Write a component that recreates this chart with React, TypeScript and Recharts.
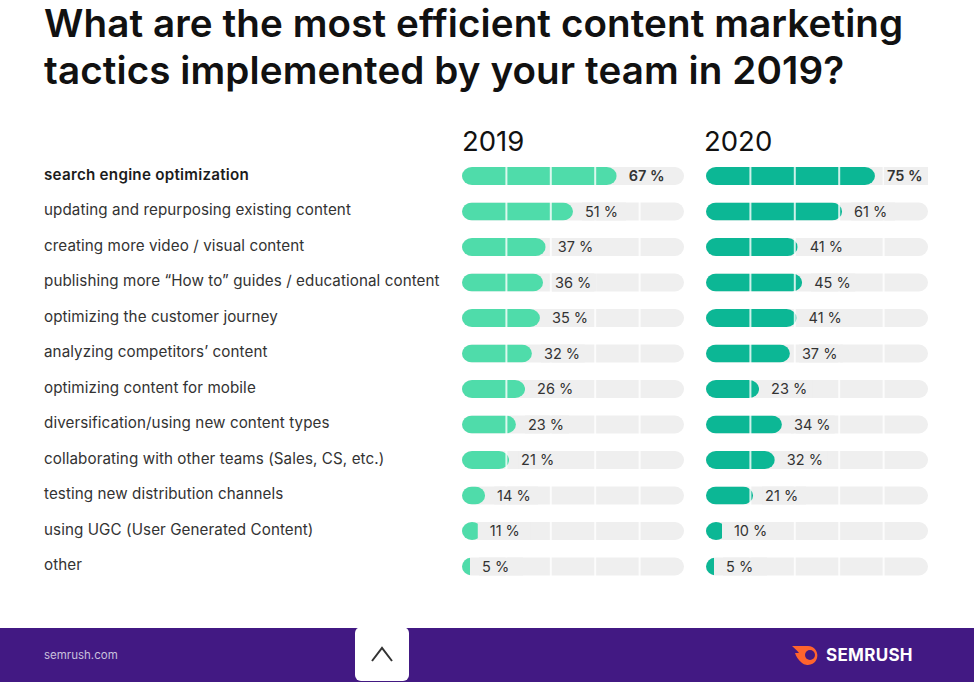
import React from "react";
import { BarChart, Bar, XAxis, YAxis, ReferenceLine, LabelList } from "recharts";

const FONT = "Inter, 'Noto Sans', sans-serif";

const TACTICS = [
  "search engine optimization",
  "updating and repurposing existing content",
  "creating more video / visual content",
  "publishing more “How to” guides / educational content",
  "optimizing the customer journey",
  "analyzing competitors’ content",
  "optimizing content for mobile",
  "diversification/using new content types",
  "collaborating with other teams (Sales, CS, etc.)",
  "testing new distribution channels",
  "using UGC (User Generated Content)",
  "other",
];

// printed percentages
const PRINTED_2019 = [67, 51, 37, 36, 35, 32, 26, 23, 21, 14, 11, 5];
const PRINTED_2020 = [75, 61, 41, 45, 41, 37, 23, 34, 32, 21, 10, 5];

// drawn bar lengths as % of the track, they differ a bit from the printed numbers
const DRAWN_2019 = [69.7, 50, 37.7, 36.5, 35.1, 31.5, 28.4, 24.3, 21.2, 10.4, 7.1, 3.6];
const DRAWN_2020 = [76.1, 61.3, 41.3, 43.3, 40.8, 37.8, 23.9, 34.2, 31, 21.2, 7.2, 3.6];

const DIVIDERS = [20, 40, 60, 80];

const ROW_HEIGHT = 426;
const BAR_HEIGHT = 18;
const RADIUS = 10;
const TRACK = "#efefef";

const makeRows = (drawn: number[], printed: number[]) =>
  TACTICS.map((name, i) => ({ name, drawn: drawn[i], printed: printed[i] }));

// the bar is a pill cut off at its value, so short bars keep the pill's curve
function PillBar(props: any) {
  const { x, y, width, height, fill, index, idPrefix } = props;
  const id = `${idPrefix}-${index}`;
  return (
    <g>
      <clipPath id={id}>
        <rect x={x} y={y} width={width} height={height} />
      </clipPath>
      <rect
        x={x}
        y={y}
        width={Math.max(width, RADIUS * 2)}
        height={height}
        rx={RADIUS}
        ry={RADIUS}
        fill={fill}
        clipPath={`url(#${id})`}
      />
    </g>
  );
}

function ValueLabel(props: any) {
  const { x, y, width, height, value, index } = props;
  const tx = x + width + 12;
  const cy = y + height / 2;
  return (
    <g>
      <rect x={tx - 3} y={y} width={44} height={height} fill={TRACK} />
      <text
        x={tx}
        y={cy + 5}
        fontFamily={FONT}
        fontSize={14.5}
        fontWeight={index === 0 ? 600 : 400}
        fill="#333333"
      >
        {`${value} %`}
      </text>
    </g>
  );
}

function TacticTick(props: any) {
  const { y, payload, index } = props;
  return (
    <text
      x={44}
      y={y + 4}
      fontFamily={FONT}
      fontSize={15.2}
      letterSpacing={index === 0 ? 0.25 : 0.08}
      fontWeight={index === 0 ? 600 : 400}
      fill={index === 0 ? "#1c1c1c" : "#333333"}
    >
      {payload.value}
    </text>
  );
}

function YearChart(props: {
  rows: { name: string; drawn: number; printed: number }[];
  color: string;
  id: string;
  width: number;
  axisWidth: number;
  marginLeft: number;
}) {
  return (
    <BarChart
      width={props.width}
      height={ROW_HEIGHT}
      data={props.rows}
      layout="vertical"
      margin={{ top: 0, right: 0, bottom: 0, left: props.marginLeft }}
    >
      <XAxis type="number" domain={[0, 100]} hide />
      <YAxis
        type="category"
        dataKey="name"
        width={props.axisWidth}
        hide={props.axisWidth === 0}
        axisLine={false}
        tickLine={false}
        interval={0}
        tick={<TacticTick />}
      />
      {DIVIDERS.map((d) => (
        <ReferenceLine key={d} x={d} stroke="#ffffff" strokeWidth={2} strokeOpacity={0.8} zIndex={500} />
      ))}
      <Bar
        dataKey="drawn"
        barSize={BAR_HEIGHT}
        fill={props.color}
        isAnimationActive={false}
        background={{ fill: TRACK, radius: RADIUS } as any}
        shape={(p: any) => <PillBar {...p} idPrefix={props.id} />}
      >
        <LabelList dataKey="printed" content={<ValueLabel />} zIndex={600} />
      </Bar>
    </BarChart>
  );
}

export default function App() {
  return (
    <div
      style={{
        position: "absolute",
        left: 0,
        top: 0,
        width: 974,
        height: 683,
        background: "#ffffff",
        overflow: "hidden",
        fontFamily: FONT,
      }}
    >
      <div
        style={{
          position: "absolute",
          left: 44,
          top: 0,
          fontSize: 38.6,
          letterSpacing: 0.1,
          lineHeight: "47px",
          fontWeight: 600,
          color: "#111111",
          whiteSpace: "nowrap",
        }}
      >
        What are the most efficient content marketing
        <br />
        tactics implemented by your team in 2019?
      </div>

      <div style={{ position: "absolute", left: 462, top: 124, fontSize: 27.5, color: "#111111" }}>2019</div>
      <div style={{ position: "absolute", left: 704, top: 124, fontSize: 27.5, color: "#111111" }}>2020</div>

      <div style={{ position: "absolute", left: 0, top: 158 }}>
        <YearChart
          rows={makeRows(DRAWN_2019, PRINTED_2019)}
          color="#4fdcaa"
          id="y2019"
          width={684}
          axisWidth={418}
          marginLeft={44}
        />
      </div>
      <div style={{ position: "absolute", left: 706, top: 158 }}>
        <YearChart
          rows={makeRows(DRAWN_2020, PRINTED_2020)}
          color="#0cb795"
          id="y2020"
          width={222}
          axisWidth={0}
          marginLeft={0}
        />
      </div>

      <div style={{ position: "absolute", left: 0, top: 628, width: 974, height: 54, background: "#421983" }} />
      <div style={{ position: "absolute", left: 44, top: 648, fontSize: 11.5, color: "#c9c0dd" }}>semrush.com</div>
      <div
        style={{
          position: "absolute",
          left: 355,
          top: 627,
          width: 54,
          height: 54,
          borderRadius: 6,
          background: "#ffffff",
        }}
      />
      <svg style={{ position: "absolute", left: 370, top: 645 }} width={24} height={18}>
        <polyline points="2,16 12,3 22,16" fill="none" stroke="#333333" strokeWidth={2} />
      </svg>
      <svg style={{ position: "absolute", left: 790, top: 644 }} width={36} height={22}>
        <path d="M2 2 H18 A9.5 9.5 0 1 1 12 19 C8 16 6 12 5 9 L9 9 C7 6 4 4 2 2 Z" fill="#ff642d" />
        <circle cx={20} cy={11} r={5} fill="#421983" />
      </svg>
      <div
        style={{
          position: "absolute",
          left: 826,
          top: 645,
          fontSize: 17,
          fontWeight: 700,
          letterSpacing: 0.3,
          color: "#ffffff",
        }}
      >
        SEMRUSH
      </div>
    </div>
  );
}
